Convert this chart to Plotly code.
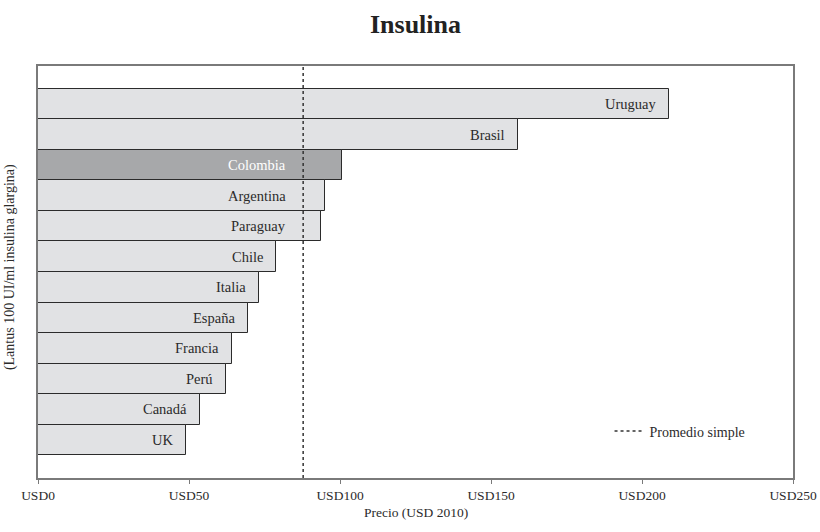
import plotly.graph_objects as go

# Datos (USD 2010)
countries = ["Uruguay", "Brasil", "Colombia", "Argentina", "Paraguay", "Chile",
             "Italia", "España", "Francia", "Perú", "Canadá", "UK"]
prices = [209.0, 159.0, 100.7, 95.0, 93.7, 78.9, 73.2, 69.5, 64.3, 62.2, 53.7, 48.9]
highlight = "Colombia"
average = 87.8
x_ticks = [0, 50, 100, 150, 200, 250]
x_tick_labels = ["USD" + str(v) for v in x_ticks]

FONT = "Liberation Serif"

colors = ["#a7a8aa" if c == highlight else "#e1e2e4" for c in countries]

fig = go.Figure()

fig.add_trace(go.Bar(
    x=prices,
    y=countries,
    orientation="h",
    marker=dict(color=colors, line=dict(color="#2b2b2b", width=1)),
    width=1,
    showlegend=False,
    hoverinfo="x+y",
))

# entrada de leyenda para la linea del promedio
fig.add_trace(go.Scatter(
    x=[None], y=[None],
    mode="lines",
    line=dict(color="#333333", width=1.5, dash="dot"),
    name="Promedio simple",
))

fig.add_shape(type="line", xref="x", yref="paper",
              x0=average, x1=average, y0=0, y1=1,
              line=dict(color="#333333", width=1.5, dash="dot"))

# etiquetas dentro de las barras; las que cruzan por poco el promedio
# se colocan a la izquierda de la linea
for c, v in zip(countries, prices):
    if average < v < average + 20:
        lx, shift = average, -15
    else:
        lx, shift = v, -11
    fig.add_annotation(
        x=lx, y=c, text=c, showarrow=False,
        xanchor="right", yanchor="middle", xshift=shift,
        font=dict(family=FONT, size=14.5,
                  color="#ffffff" if c == highlight else "#2b2b2b"),
    )

# titulos de ejes
fig.add_annotation(
    xref="paper", yref="paper", x=-0.037, y=0.512,
    text="(Lantus 100 UI/ml insulina glargina)", textangle=-90,
    showarrow=False, xanchor="center", yanchor="middle",
    font=dict(family=FONT, size=14, color="#2b2b2b"),
)
fig.add_annotation(
    xref="paper", yref="paper", x=0.5, y=-0.083,
    text="Precio (USD 2010)",
    showarrow=False, xanchor="center", yanchor="middle",
    font=dict(family=FONT, size=13.5, color="#2b2b2b"),
)

fig.update_layout(
    width=820, height=532,
    margin=dict(l=38, r=27, t=66, b=54),
    paper_bgcolor="white",
    plot_bgcolor="white",
    font=dict(family=FONT, size=13, color="#2b2b2b"),
    title=dict(text="<b>Insulina</b>", x=0.5067, xanchor="center",
               y=0.955, yanchor="middle",
               font=dict(family=FONT, size=26, color="#222222")),
    bargap=0,
    legend=dict(x=0.757, y=0.113, xanchor="left", yanchor="middle",
                bgcolor="rgba(0,0,0,0)", font=dict(size=14),
                itemwidth=30),
)

fig.update_xaxes(
    range=[0, 250],
    tickvals=x_ticks,
    ticktext=x_tick_labels,
    showgrid=False,
    zeroline=False,
    showline=True,
    linecolor="#7a7a7a",
    linewidth=1.5,
    mirror=True,
    ticks="outside",
    ticklen=4,
    tickcolor="#7a7a7a",
    tickfont=dict(size=13.5),
    automargin=False,
)

fig.update_yaxes(
    range=[len(countries) - 1 + 1.25, -1.25],
    showticklabels=False,
    showgrid=False,
    zeroline=False,
    showline=True,
    linecolor="#7a7a7a",
    linewidth=1.5,
    mirror=True,
    ticks="",
    automargin=False,
)

# sin margen del body para que la figura ocupe la ventana exacta
fig.write_html("out.html", config={"displayModeBar": False},
               post_script="document.body.style.margin='0';")
